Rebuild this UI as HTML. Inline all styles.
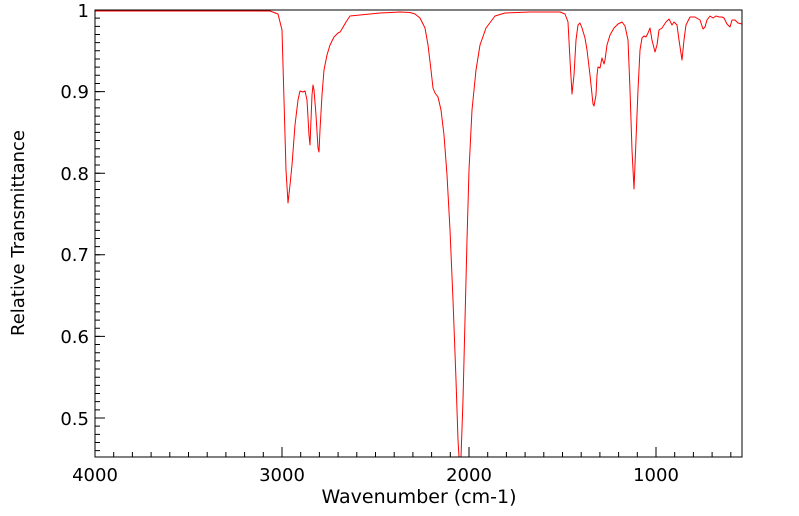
<!DOCTYPE html>
<html><head><style>body{margin:0;background:#fff}svg{display:block}</style></head><body>
<svg width="799" height="516" xmlns="http://www.w3.org/2000/svg" font-family="DejaVu Sans, Liberation Sans, sans-serif">
<path fill="none" stroke="#f00" stroke-width="1" stroke-linejoin="round" d="M95,11 L270,11 278,14 282,30 284,100 286,170 288,203 290,185 292,165 295,125 298,100 300,91 303,92 305,91 307,100 309,135 310,145 311,120 312,95 313,85 314,90 316,115 318,148 319,152 320,130 322,95 324,70 327,55 330,45 334,37 338,33 340,32 342,29 346,22 350,16 360,15 380,13 400,12 410,12.5 415,14 420,18 425,28 428,45 431,70 433,88 435,93 438,97 441,110 444,135 447,175 450,230 453,300 456,380 458,440 459,457 M461,457 L463,400 465,320 467,240 469,170 472,110 476,70 480,45 486,28 495,16 505,13 530,12 560,12 565,14 568,22 570,60 572,94 574,75 576,40 578,25 580,23 582,28 585,38 587,50 590,75 593,104 594,106 596,95 597,75 598,67 600,68 602,58 604,64 605,60 607,45 610,35 614,28 618,24 622,22 625,26 628,40 630,90 632,150 634,189 636,140 638,90 640,50 642,38 644,36 646,37 648,33 650,28 652,40 655,52 657,45 659,30 662,28 666,22 669,19 672,25 674,22 677,25 679,40 682,60 684,40 686,25 690,17 695,17 700,20 703,29 705,27 707,20 710,16 713,18 716,16 719,17 722,17 724,18 727,24 730,27 732,20 735,20 738,23 742,24"/>
<g stroke="#000" stroke-width="1" fill="none">
<path d="M113.7,457v-5 m18.7,5v-5 m18.7,5v-5 m18.7,5v-5 m18.7,5v-5 m18.7,5v-5 m18.7,5v-5 m18.7,5v-5 m18.7,5v-5 m18.7,5v-5 m18.7,5v-5 m18.7,5v-5 m18.7,5v-5 m18.7,5v-5 m18.7,5v-5 m18.7,5v-5 m18.7,5v-5 m18.7,5v-5 m18.7,5v-5 m18.7,5v-5 m18.7,5v-5 m18.7,5v-5 m18.7,5v-5 m18.7,5v-5 m18.7,5v-5 m18.7,5v-5 m18.7,5v-5 m18.7,5v-5 m18.7,5v-5 m18.7,5v-5 m18.7,5v-5 m18.7,5v-5 m18.7,5v-5 m18.7,5v-5"/>
<path d="M282,457v-10 M469,457v-10 M656,457v-10"/>
<path d="M95,18.16h5 m-5,8.16h5 m-5,8.16h5 m-5,8.16h5 m-5,8.16h5 m-5,8.16h5 m-5,8.16h5 m-5,8.16h5 m-5,8.16h5 m-5,8.16h5 m-5,8.16h5 m-5,8.16h5 m-5,8.16h5 m-5,8.16h5 m-5,8.16h5 m-5,8.16h5 m-5,8.16h5 m-5,8.16h5 m-5,8.16h5 m-5,8.16h5 m-5,8.16h5 m-5,8.16h5 m-5,8.16h5 m-5,8.16h5 m-5,8.16h5 m-5,8.16h5 m-5,8.16h5 m-5,8.16h5 m-5,8.16h5 m-5,8.16h5 m-5,8.16h5 m-5,8.16h5 m-5,8.16h5 m-5,8.16h5 m-5,8.16h5 m-5,8.16h5 m-5,8.16h5 m-5,8.16h5 m-5,8.16h5 m-5,8.16h5 m-5,8.16h5 m-5,8.16h5 m-5,8.16h5 m-5,8.16h5 m-5,8.16h5 m-5,8.16h5 m-5,8.16h5 m-5,8.16h5 m-5,8.16h5 m-5,8.16h5 m-5,8.16h5 m-5,8.16h5 m-5,8.16h5 m-5,8.16h5"/>
<path d="M95,91.6h10 M95,173.2h10 M95,254.8h10 M95,336.4h10 M95,418h10"/>
<rect x="95" y="10" width="647" height="447"/>
</g>
<g font-size="18" fill="#000" text-anchor="end">
<text x="89" y="17">1</text><text x="89" y="98">0.9</text><text x="89" y="180">0.8</text><text x="89" y="261">0.7</text><text x="89" y="343">0.6</text><text x="89" y="425">0.5</text>
</g>
<g font-size="18" fill="#000" text-anchor="middle">
<text x="95" y="481">4000</text><text x="282" y="481">3000</text><text x="469" y="481">2000</text><text x="656" y="481">1000</text>
<text x="419" y="503" font-size="19">Wavenumber (cm-1)</text>
<text transform="translate(24,233) rotate(-90)">Relative Transmittance</text>
</g>
</svg>
</body></html>
